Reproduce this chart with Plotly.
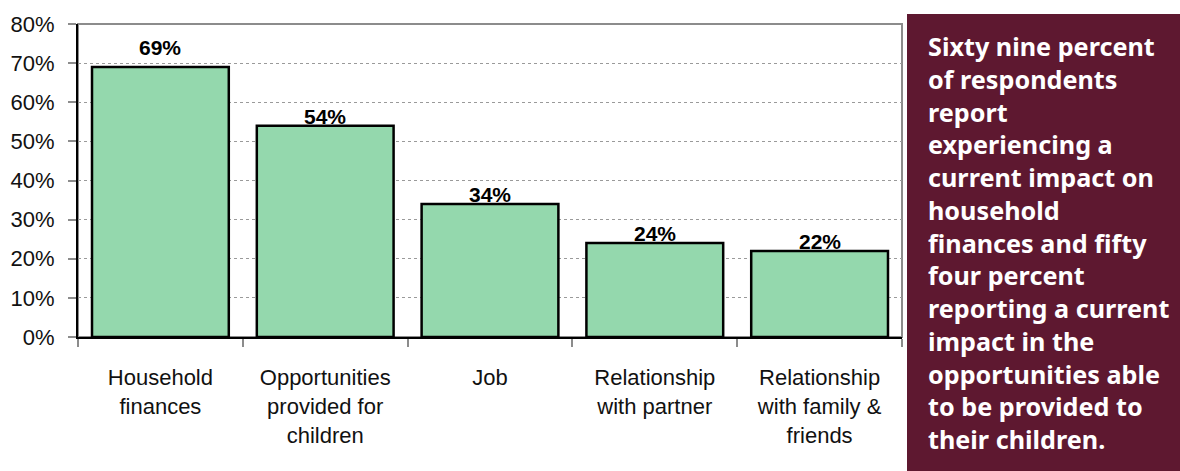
import plotly.graph_objects as go

# Share of respondents reporting a current impact, by area of life
categories = [
    "Household<br>finances",
    "Opportunities<br>provided for<br>children",
    "Job",
    "Relationship<br>with partner",
    "Relationship<br>with family &<br>friends",
]
values = [69, 54, 34, 24, 22]
y_ticks = [0, 10, 20, 30, 40, 50, 60, 70, 80]

panel_text = (
    "Sixty nine percent<br>of respondents<br>report<br>experiencing a<br>"
    "current impact on<br>household<br>finances and fifty<br>four percent<br>"
    "reporting a current<br>impact in the<br>opportunities able<br>"
    "to be provided to<br>their children."
)

W, H = 1180, 471
L, R, T, B = 78, 278, 24, 134

fig = go.Figure()
fig.add_trace(go.Bar(
    x=categories,
    y=values,
    marker=dict(color="#94D8AD", line=dict(color="#000000", width=2.5)),
    width=0.83,
    hoverinfo="skip",
))

# Value labels above each bar
for i, v in enumerate(values):
    fig.add_annotation(
        x=categories[i], y=v, xref="x", yref="y",
        text=f"<b>{v}%</b>", showarrow=False,
        yanchor="bottom", yshift=(6 if i == 0 else -4),
        font=dict(family="Liberation Sans, Arial, sans-serif", size=21, color="#000000"),
    )

# Plot-area frame (top and right in grey)
fig.add_shape(type="rect", xref="paper", yref="paper", x0=0, x1=1, y0=0, y1=1,
              line=dict(color="#8c8c8c", width=2), layer="below")

# Side commentary panel
fig.add_shape(type="rect", xref="paper", yref="paper",
              x0=(907 - L) / (W - L - R), x1=(W - L) / (W - L - R),
              y0=-B / (H - T - B), y1=(H - 14 - B) / (H - T - B),
              line=dict(width=0), fillcolor="#5E1830", layer="below")
fig.add_annotation(
    xref="paper", yref="paper",
    x=(926 - L) / (W - L - R), y=(H - 27 - B) / (H - T - B),
    xanchor="left", yanchor="top", align="left",
    text=f"<b>{panel_text}</b>", showarrow=False,
    font=dict(family="Noto Sans, DejaVu Sans, sans-serif", size=25.2, color="#FFFFFF"),
)

fig.update_layout(
    width=W, height=H,
    margin=dict(l=L, r=R, t=T, b=B),
    paper_bgcolor="#FFFFFF", plot_bgcolor="#FFFFFF",
    showlegend=False,
    bargap=0.17,
    font=dict(family="Liberation Sans, Arial, sans-serif", size=20, color="#111111"),
)
fig.update_xaxes(
    showline=True, linecolor="#000000", linewidth=2,
    ticks="outside", tickson="boundaries", ticklen=8, tickcolor="#8c8c8c", tickwidth=1.5,
    tickfont=dict(size=22, color="#111111"),
    ticklabelstandoff=20,
    showgrid=False,
)
fig.update_yaxes(
    range=[0, 80], tickvals=y_ticks, ticktext=[f"{t}%" for t in y_ticks],
    showline=True, linecolor="#000000", linewidth=2,
    ticks="outside", ticklen=8, tickcolor="#8c8c8c", tickwidth=1.5,
    tickfont=dict(size=22, color="#111111"),
    ticklabelstandoff=9,
    showgrid=True, gridcolor="#9a9a9a", griddash="dot", gridwidth=1,
    zeroline=False,
)

fig.write_html("out.html")
